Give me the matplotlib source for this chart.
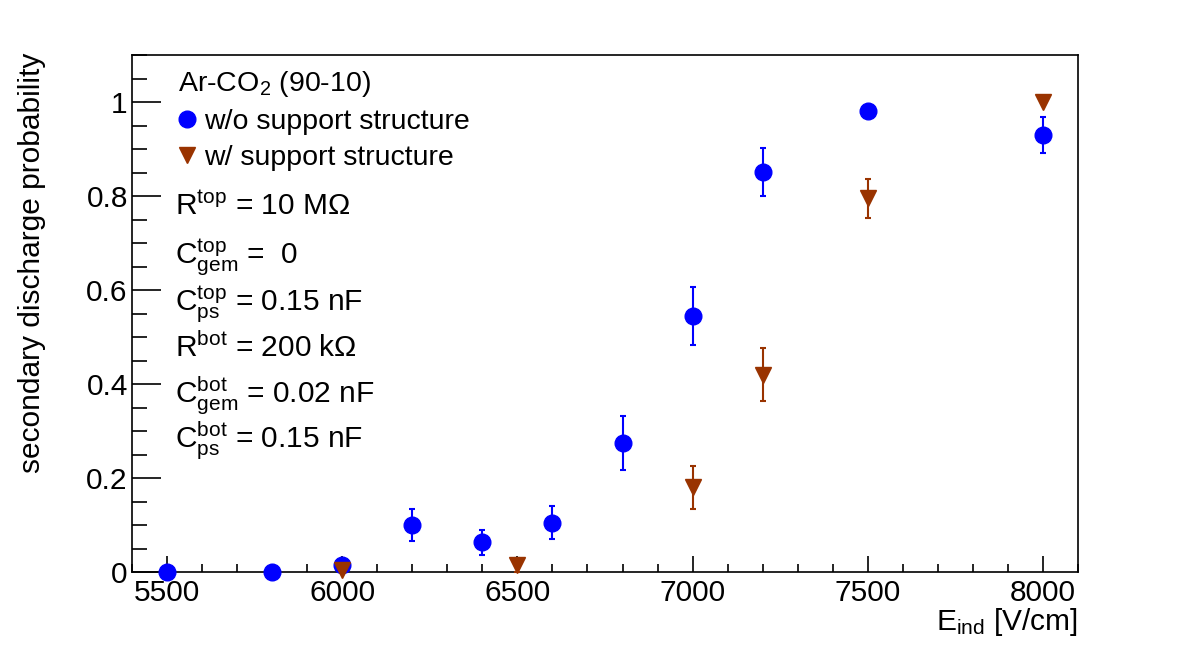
import matplotlib
matplotlib.use('Agg')
import matplotlib.pyplot as plt
from matplotlib.ticker import MultipleLocator
from matplotlib.lines import Line2D

plt.rcParams['font.family'] = ['Liberation Sans', 'DejaVu Sans']
plt.rcParams['mathtext.fontset'] = 'custom'
plt.rcParams['mathtext.rm'] = 'Liberation Sans'
plt.rcParams['mathtext.it'] = 'Liberation Sans'

# w/o support structure
e_wo = [5500, 5800, 6000, 6200, 6400, 6600, 6800, 7000, 7200, 7500, 8000]
p_wo = [0.0, 0.0, 0.015, 0.100, 0.063, 0.105, 0.274, 0.545, 0.851, 0.981, 0.930]
err_wo = [0.0, 0.0, 0.008, 0.035, 0.027, 0.035, 0.057, 0.062, 0.052, 0.010, 0.039]

# w/ support structure
e_w = [6000, 6500, 7000, 7200, 7500, 8000]
p_w = [0.005, 0.015, 0.180, 0.420, 0.795, 1.000]
err_w = [0.005, 0.015, 0.045, 0.057, 0.042, 0.0]

params = [
    r'$\mathregular{R^{top}}$ = 10 M$\mathregular{\Omega}$',
    r'$\mathregular{C^{top}_{gem}}$ =  0',
    r'$\mathregular{C^{top}_{ps}}$ = 0.15 nF',
    r'$\mathregular{R^{bot}}$ = 200 k$\mathregular{\Omega}$',
    r'$\mathregular{C^{bot}_{gem}}$ = 0.02 nF',
    r'$\mathregular{C^{bot}_{ps}}$ = 0.15 nF',
]

blue = '#0000ff'
brown = '#993300'
W, H = 1182, 646
fs = 21.5

fig = plt.figure(figsize=(W / 100, H / 100), dpi=100)
ax = fig.add_axes([132 / W, 1 - 572 / H, 946 / W, 517 / H])

ax.errorbar(e_wo, p_wo, yerr=err_wo, fmt='o', color=blue, ms=12,
            elinewidth=1.5, capsize=2, capthick=1.5, zorder=3, clip_on=False)
ax.errorbar(e_w, p_w, yerr=err_w, fmt='v', color=brown, ms=12,
            elinewidth=1.5, capsize=2, capthick=1.5, zorder=3, clip_on=False)

ax.set_xlim(5400, 8100)
ax.set_ylim(0, 1.1)
ax.xaxis.set_major_locator(MultipleLocator(500))
ax.xaxis.set_minor_locator(MultipleLocator(100))
ax.yaxis.set_minor_locator(MultipleLocator(0.05))
ax.set_yticks([0, 0.2, 0.4, 0.6, 0.8, 1.0])
ax.set_yticklabels(['0', '0.2', '0.4', '0.6', '0.8', '1'])

ax.tick_params(axis='x', which='major', direction='in', length=11.5, width=1.2,
               labelsize=fs, pad=5)
ax.tick_params(axis='x', which='minor', direction='in', length=5.8, width=1.2)
ax.tick_params(axis='y', which='major', direction='in', length=21, width=1.2,
               labelsize=fs, pad=3)
ax.tick_params(axis='y', which='minor', direction='in', length=10.5, width=1.2)
for s in ax.spines.values():
    s.set_linewidth(1.2)

fig.text(1078 / W, 1 - 630 / H, r'$\mathregular{E_{ind}}$ [V/cm]', fontsize=fs,
         ha='right', va='baseline')
fig.text(32 / W, 1 - 53 / H, 'secondary discharge probability', fontsize=fs,
         rotation=90, ha='center', va='top')

handles = [Line2D([], [], marker='o', ls='none', color=blue, ms=12),
           Line2D([], [], marker='v', ls='none', color=brown, ms=12)]
leg = ax.legend(handles, ['w/o support structure', 'w/ support structure'],
                title=r'Ar-CO$_\mathregular{2}$ (90-10)', title_fontsize=20.5,
                fontsize=20.5, frameon=False, loc='upper left',
                bbox_to_anchor=(46 / 946, 1 - 14 / 517), alignment='left',
                handlelength=0.6, handletextpad=0.3, labelspacing=0.35,
                borderaxespad=0, borderpad=0)

baselines = [215, 263, 310, 357, 403, 448]
for txt, yb in zip(params, baselines):
    fig.text(175 / W, 1 - yb / H, txt, fontsize=fs, ha='left', va='baseline')

fig.savefig('out.png', dpi=100)
